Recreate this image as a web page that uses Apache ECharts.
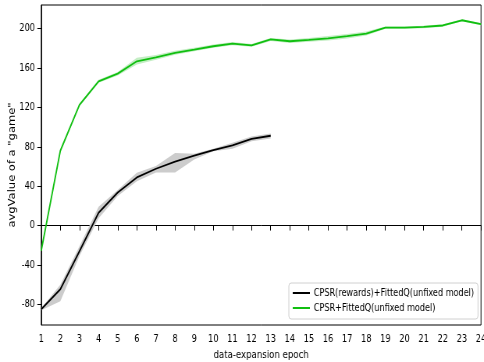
<!DOCTYPE html>
<html>
<head>
<meta charset="utf-8">
<script src="https://cdn.jsdelivr.net/npm/echarts@6/dist/echarts.min.js"></script>
<style>
  html, body { margin: 0; padding: 0; background: #fff; overflow: hidden; }
  /* Chart is laid out wide and compressed horizontally into the 484px frame */
  #chart { width: 620px; height: 362px; transform: scaleX(0.7806); transform-origin: 0 0; }
</style>
</head>
<body>
<div id="chart"></div>
<script>
// Epochs of data expansion
const epochs = [1,2,3,4,5,6,7,8,9,10,11,12,13,14,15,16,17,18,19,20,21,22,23,24];
const yTicks = [-80, -40, 0, 40, 80, 120, 160, 200];

// CPSR(rewards)+FittedQ(unfixed model): mean and spread band
const rewardsMean  = [-85, -64.7, -26, 13, 33.6, 48.9, 57.7, 65, 70.9, 76.7, 81.4, 88, 91.2];
const rewardsLower = [-86, -77, -31, 7.5, 30, 45, 54, 54, 67, 75.5, 78, 85.5, 88.5];
const rewardsUpper = [-84, -60, -21, 19, 36, 53.7, 60.5, 73.6, 73, 78, 84, 90.5, 93.5];

// CPSR+FittedQ(unfixed model): mean and spread band
const fittedMean  = [-25.5, 76, 122.5, 146.5, 154.3, 166.8, 170.9, 175.4, 178.7, 182.1, 184.8, 183, 189, 187.2, 188.6, 190.2, 192.3, 195, 201, 201, 201.8, 203.2, 208.5, 204.5];
const fittedLower = [-26.5, 75, 121, 145, 152.5, 163.5, 168.5, 173.5, 177, 180.5, 183, 181.5, 187.5, 185.5, 186.8, 188, 190, 193, 199.8, 199.8, 200.5, 202, 207.5, 203.5];
const fittedUpper = [-24.5, 77, 124, 148, 156, 170.3, 173.3, 177.5, 180.5, 183.8, 186.5, 184.5, 190.5, 189, 190.4, 192.4, 194.6, 197, 202.2, 202.2, 203, 204.4, 209.5, 205.5];

const seriesNames = ['CPSR(rewards)+FittedQ(unfixed model)', 'CPSR+FittedQ(unfixed model)'];

const pairs = (xs, ys) => ys.map((v, i) => [xs[i], v]);

const FONT = '"DejaVu Sans", sans-serif';
const GREEN = '#10bf10';

// Shaded spread between lower and upper curves, drawn as one polygon
function band(lower, upper, fill) {
  const n = lower.length;
  return {
    type: 'custom',
    silent: true,
    z: 1,
    data: [[epochs[0], lower[0]]],
    renderItem: function (params, api) {
      const pts = [];
      for (let i = 0; i < n; i++) pts.push(api.coord([epochs[i], upper[i]]));
      for (let i = n - 1; i >= 0; i--) pts.push(api.coord([epochs[i], lower[i]]));
      return { type: 'polygon', shape: { points: pts }, style: { fill: fill } };
    }
  };
}

const chart = echarts.init(document.getElementById('chart'), null, { renderer: 'canvas' });
chart.setOption({
  animation: false,
  backgroundColor: '#fff',
  grid: {
    left: 52.8, right: 3.8, top: 5, bottom: 37,
    outerBoundsMode: 'none', containLabel: false,
    show: true, borderColor: '#000', borderWidth: 1
  },
  xAxis: {
    type: 'value', min: 1, max: 24, interval: 1,
    name: 'data-expansion epoch', nameLocation: 'middle', nameGap: 25, nameMoveOverlap: false,
    nameTextStyle: { fontFamily: FONT, fontSize: 11, color: '#000' },
    axisLine: { lineStyle: { color: '#000', width: 1 } },
    axisTick: { show: true, length: 5, lineStyle: { color: '#000' } },
    axisLabel: { fontFamily: FONT, fontSize: 10.5, color: '#000', margin: 9 },
    splitLine: { show: false }
  },
  yAxis: {
    type: 'value', min: -101, max: 224,
    name: 'avgValue of a "game"', nameLocation: 'middle', nameGap: 31, nameRotate: 90,
    nameMoveOverlap: false,
    nameTextStyle: { fontFamily: FONT, fontSize: 11.5, color: '#000' },
    axisLine: { lineStyle: { color: '#000', width: 1 } },
    axisTick: { show: true, length: 5, customValues: yTicks, lineStyle: { color: '#000' } },
    axisLabel: { fontFamily: FONT, fontSize: 10.5, color: '#000', margin: 8, customValues: yTicks },
    splitLine: { show: false }
  },
  legend: {
    data: seriesNames,
    orient: 'vertical',
    right: 7.7, bottom: 43,
    backgroundColor: '#fff',
    borderColor: '#d0d0d0', borderWidth: 1, borderRadius: 3,
    padding: [5, 5, 6, 5],
    itemGap: 5,
    itemWidth: 22, itemHeight: 2,
    icon: 'rect',
    textStyle: { fontFamily: FONT, fontSize: 10.4, color: '#000' }
  },
  series: [
    band(rewardsLower, rewardsUpper, '#cccccc'),
    band(fittedLower, fittedUpper, '#c4eec4'),
    {
      name: seriesNames[0], type: 'line', data: pairs(epochs, rewardsMean),
      symbol: 'none', color: '#000', lineStyle: { color: '#000', width: 1.8 }, z: 3
    },
    {
      name: seriesNames[1], type: 'line', data: pairs(epochs, fittedMean),
      symbol: 'none', color: GREEN, lineStyle: { color: GREEN, width: 1.8 }, z: 3
    }
  ]
});
</script>
</body>
</html>
